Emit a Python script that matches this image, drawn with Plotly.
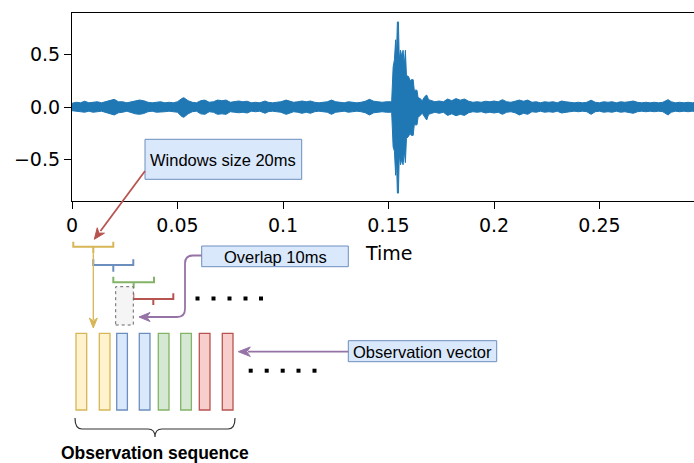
import plotly.graph_objects as go

# ---------------- data ----------------
t_env = [0.000, 0.002, 0.004, 0.006, 0.008, 0.010, 0.012, 0.014, 0.016, 0.018,
         0.020, 0.022, 0.024, 0.026, 0.028, 0.030, 0.032, 0.034, 0.036, 0.038,
         0.040, 0.042, 0.044, 0.046, 0.048, 0.050, 0.052, 0.053, 0.055, 0.057,
         0.059, 0.061, 0.063, 0.065, 0.067, 0.069, 0.071, 0.073, 0.075, 0.077,
         0.079, 0.081, 0.083, 0.085, 0.087, 0.089, 0.0915, 0.093, 0.095, 0.097,
         0.099, 0.1015, 0.103, 0.105, 0.107, 0.109, 0.111, 0.113, 0.115, 0.117,
         0.119, 0.121, 0.123, 0.125, 0.127, 0.129, 0.131, 0.133, 0.135, 0.137,
         0.139, 0.141, 0.143, 0.145, 0.147, 0.149, 0.1515,
         0.1522, 0.1528, 0.1534, 0.1538, 0.1542, 0.1547, 0.1551, 0.1557, 0.1563,
         0.1569, 0.1575, 0.1580, 0.1585, 0.1595, 0.1602, 0.1608, 0.1617, 0.1622,
         0.1635, 0.1640, 0.1650, 0.1660, 0.1672, 0.1681, 0.1690, 0.1705,
         0.172, 0.174, 0.176, 0.178, 0.180, 0.182, 0.184, 0.186, 0.188, 0.190,
         0.192, 0.194, 0.196, 0.198, 0.200, 0.202, 0.204, 0.206, 0.208, 0.210,
         0.212, 0.214, 0.216, 0.218, 0.220, 0.222, 0.224, 0.226, 0.228, 0.230,
         0.232, 0.234, 0.236, 0.238, 0.240, 0.242, 0.244, 0.246, 0.248, 0.250,
         0.252, 0.254, 0.256, 0.258, 0.260, 0.262, 0.264, 0.266, 0.268, 0.270,
         0.272, 0.274, 0.276, 0.278, 0.280, 0.2825, 0.284, 0.286, 0.288, 0.290,
         0.292, 0.294, 0.296]
amp_upper = [0.035, 0.045, 0.040, 0.055, 0.040, 0.045, 0.050, 0.040, 0.050, 0.065,
             0.073, 0.050, 0.050, 0.040, 0.050, 0.060, 0.066, 0.060, 0.045, 0.040,
             0.045, 0.050, 0.040, 0.045, 0.040, 0.050, 0.080, 0.089, 0.060, 0.045,
             0.040, 0.060, 0.066, 0.045, 0.050, 0.066, 0.060, 0.066, 0.045, 0.050,
             0.057, 0.050, 0.055, 0.040, 0.045, 0.040, 0.057, 0.045, 0.040, 0.045,
             0.050, 0.066, 0.060, 0.045, 0.050, 0.057, 0.050, 0.057, 0.045, 0.040,
             0.045, 0.050, 0.066, 0.050, 0.045, 0.040, 0.050, 0.045, 0.040, 0.045,
             0.055, 0.073, 0.055, 0.050, 0.045, 0.050, 0.050,
             0.380, 0.450, 0.640, 0.500, 0.810, 0.810, 0.450, 0.540, 0.480,
             0.540, 0.400, 0.540, 0.300, 0.290, 0.250, 0.260, 0.260, 0.160,
             0.160, 0.090, 0.080, 0.060, 0.100, 0.114, 0.070, 0.057,
             0.050, 0.057, 0.050, 0.076, 0.060, 0.080, 0.065, 0.076, 0.055, 0.045,
             0.050, 0.045, 0.055, 0.050, 0.057, 0.050, 0.070, 0.050, 0.045, 0.055,
             0.066, 0.055, 0.066, 0.045, 0.050, 0.040, 0.050, 0.045, 0.050, 0.040,
             0.057, 0.050, 0.045, 0.040, 0.045, 0.040, 0.045, 0.065, 0.045, 0.040,
             0.050, 0.045, 0.050, 0.040, 0.050, 0.045, 0.050, 0.057, 0.045, 0.040,
             0.045, 0.040, 0.045, 0.040, 0.045, 0.070, 0.050, 0.040, 0.045, 0.040,
             0.045, 0.040, 0.045]
amp_lower = [0.035, 0.040, 0.045, 0.050, 0.040, 0.050, 0.045, 0.040, 0.050, 0.065,
             0.076, 0.055, 0.050, 0.040, 0.050, 0.065, 0.070, 0.062, 0.045, 0.040,
             0.050, 0.050, 0.045, 0.040, 0.045, 0.050, 0.090, 0.098, 0.065, 0.045,
             0.040, 0.065, 0.070, 0.045, 0.050, 0.070, 0.065, 0.070, 0.045, 0.050,
             0.055, 0.050, 0.057, 0.040, 0.045, 0.040, 0.060, 0.045, 0.040, 0.045,
             0.050, 0.070, 0.060, 0.045, 0.050, 0.060, 0.050, 0.060, 0.045, 0.040,
             0.045, 0.050, 0.070, 0.050, 0.045, 0.040, 0.050, 0.045, 0.040, 0.045,
             0.055, 0.076, 0.055, 0.050, 0.045, 0.050, 0.050,
             0.380, 0.420, 0.650, 0.500, 0.820, 0.820, 0.450, 0.550, 0.500,
             0.550, 0.420, 0.530, 0.300, 0.280, 0.250, 0.270, 0.270, 0.170,
             0.170, 0.100, 0.080, 0.060, 0.100, 0.124, 0.070, 0.060,
             0.050, 0.060, 0.050, 0.080, 0.065, 0.083, 0.070, 0.080, 0.055, 0.045,
             0.050, 0.045, 0.057, 0.050, 0.057, 0.050, 0.070, 0.050, 0.045, 0.055,
             0.076, 0.060, 0.070, 0.045, 0.050, 0.040, 0.050, 0.045, 0.050, 0.040,
             0.057, 0.050, 0.045, 0.040, 0.045, 0.040, 0.045, 0.070, 0.045, 0.040,
             0.050, 0.045, 0.050, 0.040, 0.050, 0.045, 0.050, 0.060, 0.045, 0.040,
             0.045, 0.040, 0.045, 0.040, 0.045, 0.076, 0.050, 0.040, 0.045, 0.040,
             0.045, 0.040, 0.045]

x_tickvals = [0, 0.05, 0.1, 0.15, 0.2, 0.25]
x_ticktext = ["0", "0.05", "0.1", "0.15", "0.2", "0.25"]
y_tickvals = [0.5, 0.0, -0.5]
y_ticktext = ["0.5", "0.0", "\u22120.5"]

x_label = "Time"
box_windows = "Windows size 20ms"
box_overlap = "Overlap 10ms"
box_obsvec = "Observation vector"
seq_label = "Observation sequence"

# ---------------- figure ----------------
W, H = 694, 463
BLUE = "#1f77b4"


def X(px):
    return px / W


def Y(py):
    return 1 - py / H


xs = t_env + t_env[::-1]
ys = amp_upper + [-v for v in amp_lower[::-1]]

fig = go.Figure()
fig.add_trace(go.Scatter(x=xs, y=ys, mode="lines", fill="toself",
                         fillcolor=BLUE, line=dict(color=BLUE, width=1.0),
                         hoverinfo="skip"))

shapes = []
annotations = []


def rect(x0, y0, x1, y1, fill, line, width=1.0, dash=None):
    ln = dict(color=line, width=width)
    if dash:
        ln["dash"] = dash
    shapes.append(dict(type="rect", xref="paper", yref="paper",
                       x0=X(x0), x1=X(x1), y0=Y(y1), y1=Y(y0),
                       fillcolor=fill, line=ln, layer="above"))


def path(d_pts, color, width=1.5, fill=None):
    parts = []
    for cmd, pts in d_pts:
        if cmd in ("M", "L"):
            for i, (a, b) in enumerate(pts):
                c = cmd if (cmd == "L" or i == 0) else "L"
                parts.append(f"{c}{X(a):.5f},{Y(b):.5f}")
        else:
            parts.append(cmd + " ".join(f"{X(a):.5f},{Y(b):.5f}" for a, b in pts))
    s = " ".join(parts)
    if fill:
        s += " Z"
    shp = dict(type="path", xref="paper", yref="paper", path=s,
               line=dict(color=color, width=width), layer="above")
    shp["fillcolor"] = fill if fill else "rgba(0,0,0,0)"
    shapes.append(shp)


def arrowhead(tip, frm, color, L=10.0, Wd=8.0):
    dx, dy = tip[0] - frm[0], tip[1] - frm[1]
    n = (dx * dx + dy * dy) ** 0.5
    ux, uy = dx / n, dy / n
    px_, py_ = -uy, ux
    bx, by = tip[0] - L * ux, tip[1] - L * uy
    nx, ny = tip[0] - 0.7 * L * ux, tip[1] - 0.7 * L * uy
    left = (bx + Wd / 2 * px_, by + Wd / 2 * py_)
    right = (bx - Wd / 2 * px_, by - Wd / 2 * py_)
    path([("M", [tip]), ("L", [left, (nx, ny), right])], color, width=1, fill=color)


def text(cx, cy, s, size=16, bold=False, family="Liberation Sans, Arial", color="#000000"):
    annotations.append(dict(xref="paper", yref="paper", x=X(cx), y=Y(cy),
                            text=f"<b>{s}</b>" if bold else s, showarrow=False,
                            xanchor="center", yanchor="middle",
                            font=dict(family=family, size=size, color=color)))


YEL, YELF = "#d6b656", "#fff2cc"
BLU, BLUF = "#6c8ebf", "#dae8fc"
GRN, GRNF = "#82b366", "#d5e8d4"
RED, REDF = "#b85450", "#f8cecc"
PUR = "#9673a6"


def bracket(x1, x2, ytop, yh, ybot, color):
    xc = (x1 + x2) / 2
    path([("M", [(x1, ytop)]), ("L", [(x1, yh), (x2, yh), (x2, ytop)]),
          ("M", [(xc, yh)]), ("L", [(xc, ybot)])], color, width=2.0)


bracket(73.3, 113.3, 241.7, 246.7, 253.3, YEL)
bracket(93.3, 133.3, 259.3, 265.0, 271.7, BLU)
bracket(113.3, 154.0, 276.7, 282.3, 288.3, GRN)
bracket(133.3, 173.3, 293.3, 299.0, 305.0, RED)

# yellow arrow down
path([("M", [(93.3, 253.3)]), ("L", [(93.3, 320)])], YEL, width=1.3)
arrowhead((93.3, 328), (93.3, 253.3), YEL, L=10, Wd=8)

# dashed overlap box
rect(115.7, 286.7, 133.3, 325.0, "#f5f5f5", "#666666", width=1, dash="dot")

# dots
for cx in [197.5, 213.5, 229.5, 245.5, 261.0]:
    rect(cx - 2, 296.5, cx + 2, 300.5, "#000000", "#000000", width=0)
for cx in [250.7, 266.7, 282.7, 298.5, 314.5]:
    rect(cx - 2, 368.7, cx + 2, 372.7, "#000000", "#000000", width=0)

# observation bars
bars = [(76.0, YEL, YELF), (99.3, YEL, YELF), (116.7, BLU, BLUF), (139.3, BLU, BLUF),
        (158.3, GRN, GRNF), (180.7, GRN, GRNF), (199.3, RED, REDF), (222.3, RED, REDF)]
for x0, st, fl in bars:
    rect(x0, 333.3, x0 + 10.7, 410.0, fl, st, width=1.3)

# curly brace
path([("M", [(75, 418)]), ("Q", [(75, 429), (82, 429)]), ("L", [(148, 429)]),
      ("Q", [(155, 429), (155, 437)]), ("Q", [(155, 429), (162, 429)]),
      ("L", [(228, 429)]), ("Q", [(235, 429), (235, 418)])], "#333333", width=1.2)
text(155, 452.5, seq_label, size=17.5, bold=True)

# Windows size box + red arrow
rect(145, 139.3, 301.7, 179.3, BLUF, BLU, width=1)
text(222.5, 159.8, box_windows, size=16.5)
path([("M", [(145, 171)]), ("L", [(100.5, 231.0)])], RED, width=1.8)
arrowhead((94.3, 239.3), (145, 171), RED, L=11, Wd=9)

# Overlap box + purple curved arrow
rect(201.7, 246.0, 348.3, 266.7, BLUF, BLU, width=1)
text(275, 256.8, box_overlap, size=16.5)
path([("M", [(201.7, 255.5)]), ("L", [(193, 255.5)]), ("Q", [(185, 255.5), (185, 263.5)]),
      ("L", [(185, 309)]), ("Q", [(185, 317), (177, 317)]), ("L", [(147, 317)])], PUR, width=1.8)
arrowhead((139.0, 317), (185, 317), PUR, L=11, Wd=9)

# Observation vector box + arrow
rect(348.3, 340.7, 496.7, 361.7, BLUF, BLU, width=1)
text(422.5, 351.7, box_obsvec, size=16.5)
path([("M", [(348.3, 351.7)]), ("L", [(248, 351.7)])], PUR, width=1.8)
arrowhead((238.3, 351.7), (348.3, 351.7), PUR, L=12, Wd=9.5)

# x label
text(389, 252.5, x_label, size=19, family="DejaVu Sans")

axis_common = dict(ticks="outside", ticklen=7, tickwidth=1, tickcolor="black",
                   showline=True, linecolor="black", linewidth=1.2,
                   showgrid=False, zeroline=False, automargin=False,
                   tickfont=dict(family="DejaVu Sans", size=19, color="black"))

fig.update_layout(
    template="none",
    width=W, height=H, margin=dict(l=0, r=0, t=0, b=0, pad=0, autoexpand=False),
    paper_bgcolor="white", plot_bgcolor="white", showlegend=False,
    shapes=shapes, annotations=annotations,
    xaxis=dict(domain=[X(72), 1.0], range=[0, (694 - 72) / 2110.0],
               tickvals=x_tickvals, ticktext=x_ticktext, mirror=True, **axis_common),
    yaxis=dict(domain=[Y(201), Y(13)], range=[-0.895, 0.895],
               tickvals=y_tickvals, ticktext=y_ticktext, mirror=False, **axis_common),
)

fig.write_html("out.html")
